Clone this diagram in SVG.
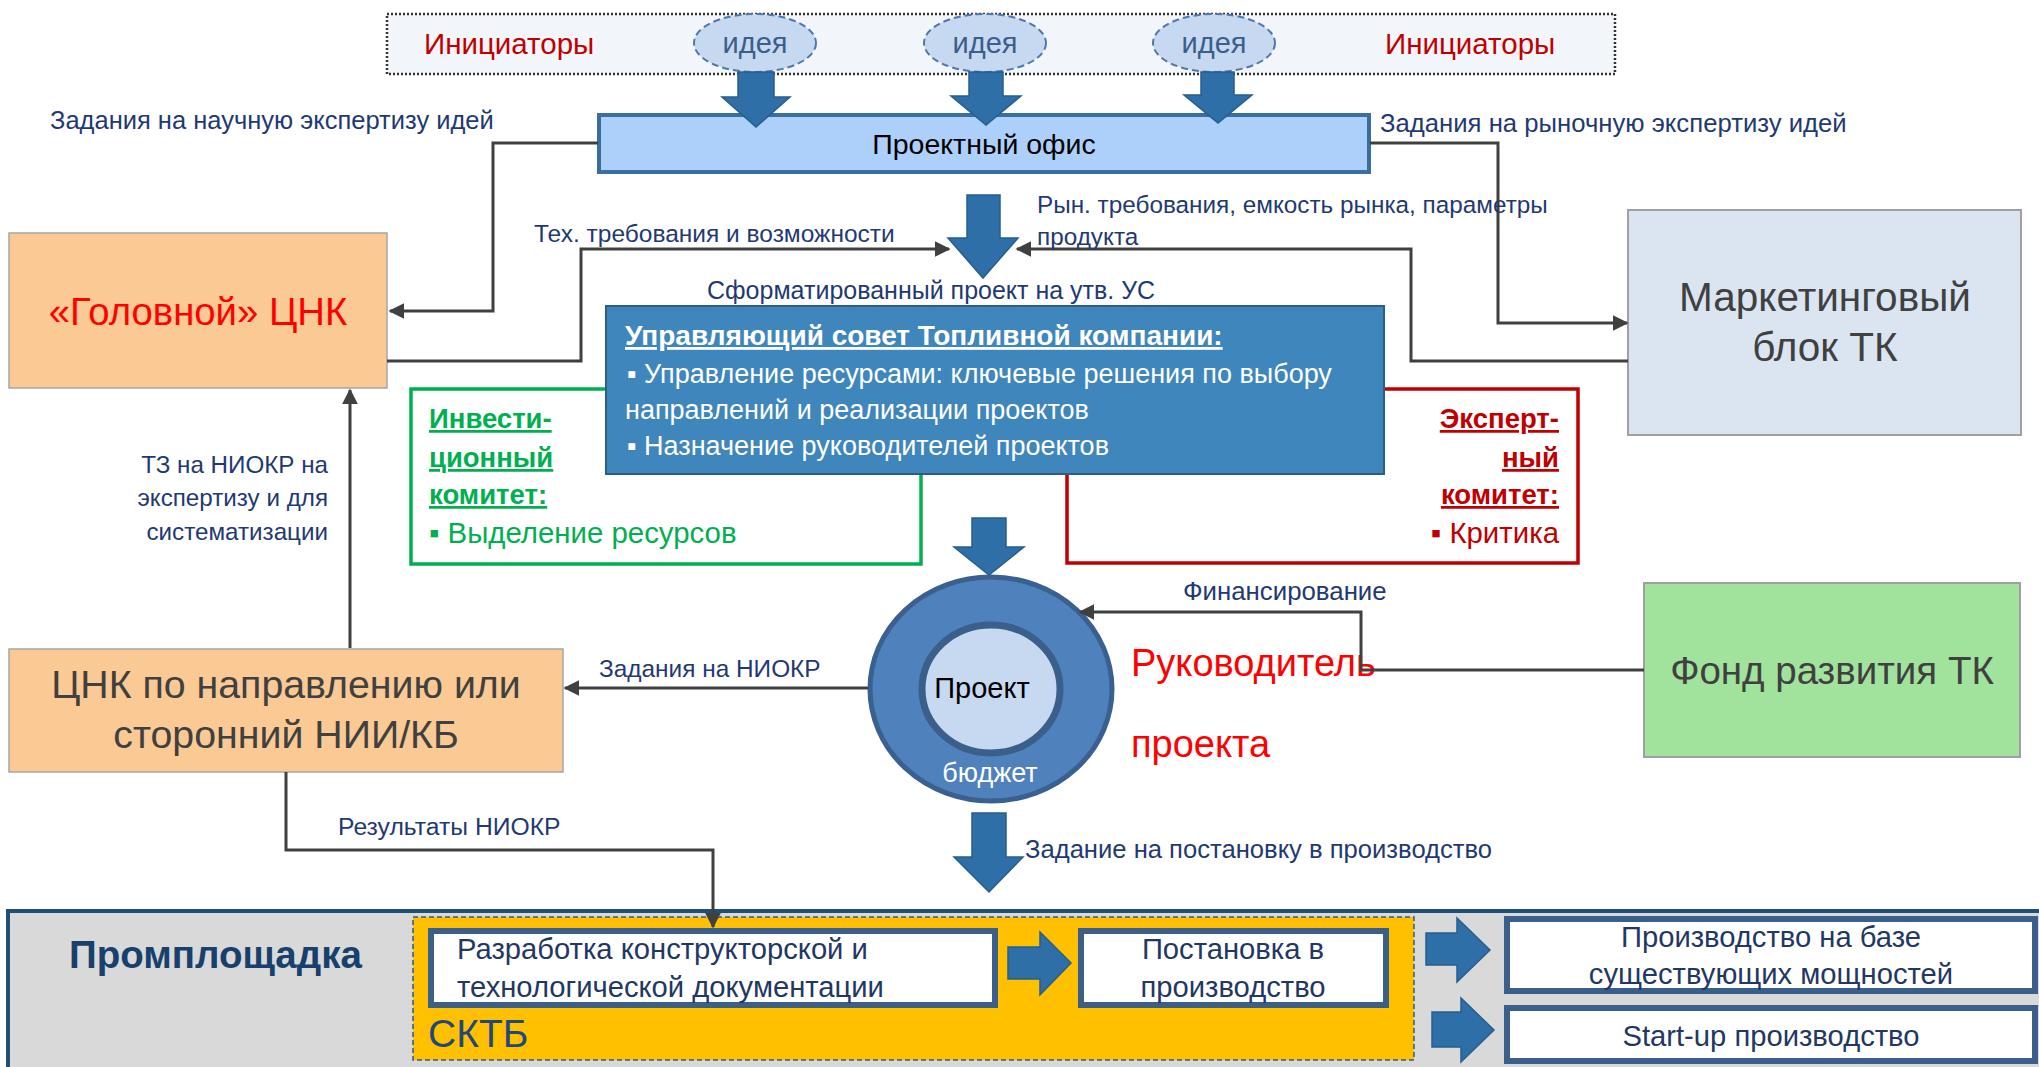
<svg xmlns="http://www.w3.org/2000/svg" width="2039" height="1067" viewBox="0 0 2039 1067">
<defs>
<style>
text{font-family:"Liberation Sans",Arial,sans-serif;}
.lbl{font-size:25px;fill:#1F3A73;}
.big{font-size:38.5px;fill:#404040;}
.box{font-size:29.2px;fill:#1F3864;}
.uc{font-size:27px;fill:#FFFFFF;}
.bar{fill:#2E6FA7;stroke:#275E8E;stroke-width:1.5;}
.con{fill:none;stroke:#404040;stroke-width:3;}
.idea{fill:#C6D9F1;stroke:#4F79AA;stroke-width:2;stroke-dasharray:7 4;}
.ideat{font-size:29px;fill:#3B5E8C;text-anchor:middle;}
.init{font-size:29.5px;fill:#C00000;}
.wb{fill:#FFFFFF;stroke:#3A5F8B;stroke-width:6;}
</style>
<marker id="ah" viewBox="0 0 10 10" refX="9" refY="5" markerWidth="16" markerHeight="16" markerUnits="userSpaceOnUse" orient="auto"><path d="M0,0 L10,5 L0,10 z" fill="#404040"/></marker>
</defs>
<rect width="2039" height="1067" fill="#FFFFFF"/>

<g id="initiators">
<rect x="387" y="14" width="1228" height="60" fill="#F2F6FB" stroke="#333333" stroke-width="2.5" stroke-dasharray="2 2"/>
<text class="init" x="424" y="54">Инициаторы</text>
<text class="init" x="1385" y="54">Инициаторы</text>
</g>
<g id="idea1"><ellipse class="idea" cx="755" cy="43" rx="61" ry="29"/><text class="ideat" x="755" y="53">идея</text></g>
<g id="idea2"><ellipse class="idea" cx="985" cy="43" rx="61" ry="29"/><text class="ideat" x="985" y="53">идея</text></g>
<g id="idea3"><ellipse class="idea" cx="1214" cy="43" rx="61" ry="29"/><text class="ideat" x="1214" y="53">идея</text></g>

<g id="project-office">
<rect x="599" y="115" width="770" height="57" fill="#ADD0FB" stroke="#3A6EA0" stroke-width="4"/>
<text x="984" y="154" font-size="28.5" fill="#000000" text-anchor="middle">Проектный офис</text>
</g>

<g id="golovnoy">
<rect x="9" y="233" width="378" height="155" fill="#FAC994" stroke="#A6A6A6" stroke-width="1.5"/>
<text x="198" y="325" font-size="38.3" fill="#FF0000" text-anchor="middle">«Головной» ЦНК</text>
</g>

<g id="marketing">
<rect x="1628" y="210" width="393" height="225" fill="#DBE5F1" stroke="#A0A0A0" stroke-width="2"/>
<text class="big" x="1825" y="311" text-anchor="middle" style="font-size:40.5px">Маркетинговый</text>
<text class="big" x="1825" y="361" text-anchor="middle" style="font-size:40.5px">блок ТК</text>
</g>

<g id="invest">
<rect x="411" y="389" width="510" height="175" fill="#FFFFFF" stroke="#00B050" stroke-width="3.5"/>
<text x="429" y="428" font-size="27.5" font-weight="bold" fill="#00B050" text-decoration="underline">Инвести-</text>
<text x="429" y="467" font-size="27.5" font-weight="bold" fill="#00B050" text-decoration="underline">ционный</text>
<text x="429" y="504" font-size="27.5" font-weight="bold" fill="#00B050" text-decoration="underline">комитет:</text>
<text x="429" y="543" font-size="29.4" fill="#00B050">▪ Выделение ресурсов</text>
</g>

<g id="expert">
<rect x="1067" y="389" width="511" height="174" fill="#FFFFFF" stroke="#C00000" stroke-width="3.5"/>
<text x="1559" y="428" font-size="27.5" font-weight="bold" fill="#C00000" text-anchor="end" text-decoration="underline">Эксперт-</text>
<text x="1559" y="467" font-size="27.5" font-weight="bold" fill="#C00000" text-anchor="end" text-decoration="underline">ный</text>
<text x="1559" y="504" font-size="27.5" font-weight="bold" fill="#C00000" text-anchor="end" text-decoration="underline">комитет:</text>
<text x="1559" y="543" font-size="29.4" fill="#C00000" text-anchor="end">▪ Критика</text>
</g>

<g id="council">
<rect x="606" y="306" width="778" height="168" fill="#3F86BD" stroke="#2B5C8A" stroke-width="2"/>
<text x="625" y="345" font-size="28" font-weight="bold" fill="#FFFFFF" text-decoration="underline">Управляющий совет Топливной компании:</text>
<text class="uc" x="627" y="383">▪ Управление ресурсами: ключевые решения по выбору</text>
<text class="uc" x="625" y="419">направлений и реализации проектов</text>
<text class="uc" x="627" y="455">▪ Назначение руководителей проектов</text>
</g>

<g id="cnk-dir">
<rect x="9" y="649" width="554" height="123" fill="#FAC994" stroke="#A6A6A6" stroke-width="1.5"/>
<text class="big" x="286" y="698" text-anchor="middle" style="font-size:39.3px">ЦНК по направлению или</text>
<text class="big" x="286" y="748" text-anchor="middle" style="font-size:39.3px">сторонний НИИ/КБ</text>
</g>

<g id="fund">
<rect x="1644" y="583" width="376" height="174" fill="#A1E39D" stroke="#A0A0A0" stroke-width="2"/>
<text class="big" x="1832" y="684" text-anchor="middle">Фонд развития ТК</text>
</g>

<g id="project">
<ellipse cx="991" cy="689" rx="121" ry="112" fill="#4F81BD" stroke="#3A6090" stroke-width="5"/>
<ellipse cx="991" cy="689" rx="69" ry="64" fill="#C6D9F1" stroke="#3A5F8B" stroke-width="7"/>
<text x="982" y="698" font-size="29" fill="#000000" text-anchor="middle">Проект</text>
<text x="990" y="782" font-size="27" fill="#FFFFFF" text-anchor="middle">бюджет</text>
</g>

<g id="manager">
<text x="1131" y="676" font-size="38" fill="#FF0000">Руководитель</text>
<text x="1131" y="757" font-size="38" fill="#FF0000">проекта</text>
</g>

<g id="promplosh">
<rect x="8" y="911" width="2040" height="170" fill="#D9D9D9" stroke="#1F4E79" stroke-width="4"/>
<text x="69" y="968" font-size="38.5" font-weight="bold" fill="#17406D">Промплощадка</text>
</g>

<g id="sktb">
<rect x="413" y="917" width="1001" height="143" fill="#FFC000" stroke="#2F5A8A" stroke-width="1.5" stroke-dasharray="5 3"/>
<text x="428" y="1047" font-size="39" fill="#1F497D">СКТБ</text>
</g>

<g id="razrabotka">
<rect class="wb" x="431" y="931" width="564" height="74"/>
<text class="box" x="457" y="959">Разработка конструкторской и</text>
<text class="box" x="457" y="997">технологической документации</text>
</g>

<g id="postanovka">
<rect class="wb" x="1081" y="931" width="305" height="74"/>
<text class="box" x="1233" y="959" text-anchor="middle">Постановка в</text>
<text class="box" x="1233" y="997" text-anchor="middle">производство</text>
</g>

<g id="prod-existing">
<rect class="wb" x="1507" y="919" width="528" height="72"/>
<text class="box" x="1771" y="947" text-anchor="middle">Производство на базе</text>
<text class="box" x="1771" y="984" text-anchor="middle">существующих мощностей</text>
</g>

<g id="startup">
<rect class="wb" x="1507" y="1008" width="528" height="53"/>
<text class="box" x="1771" y="1046" text-anchor="middle">Start-up производство</text>
</g>

<g id="connectors">
<polygon class="bar" points="738,72 774,72 774,97 790,97 756,127 722,97 738,97"/>
<polygon class="bar" points="969,72 1003,72 1003,96 1021,96 986,125 951,96 969,96"/>
<polygon class="bar" points="1201,72 1234,72 1234,95 1252,95 1218,123 1184,95 1201,95"/>
<polygon class="bar" points="967,195 1000,195 1000,238 1018,238 983,278 948,238 967,238"/>
<polygon class="bar" points="972,518 1006,518 1006,547 1024,547 989,575 954,547 972,547"/>
<polygon class="bar" points="972,813 1006,813 1006,857 1023,857 989,892 954,857 972,857"/>
<polygon class="bar" points="1008,947 1040,947 1040,932 1071,963 1040,995 1040,979 1008,979"/>
<polygon class="bar" points="1426,933 1457,933 1457,918 1490,950 1457,982 1457,965 1426,965"/>
<polygon class="bar" points="1432,1012 1461,1012 1461,998 1494,1030 1461,1062 1461,1047 1432,1047"/>

<path class="con" d="M598,143 H493 V311 H390" marker-end="url(#ah)"/>
<path class="con" d="M387,361 H581 V249 H949" marker-end="url(#ah)"/>
<path class="con" d="M1628,361 H1411 V249 H1017" marker-end="url(#ah)"/>
<path class="con" d="M1370,143 H1498 V323 H1627" marker-end="url(#ah)"/>
<path class="con" d="M350,648 V390" marker-end="url(#ah)"/>
<path class="con" d="M868,688 H565" marker-end="url(#ah)"/>
<path class="con" d="M1644,670 H1361 V612 H1080" marker-end="url(#ah)"/>
<path class="con" d="M286,772 V850 H713 V927" marker-end="url(#ah)"/>

<text class="lbl" x="50" y="129" style="font-size:25.5px">Задания на научную экспертизу идей</text>
<text class="lbl" x="1380" y="132" style="font-size:25.7px">Задания на рыночную экспертизу идей</text>
<text class="lbl" x="534" y="242" style="font-size:24.5px">Тех. требования и возможности</text>
<text class="lbl" x="1037" y="213" style="font-size:24.3px">Рын. требования, емкость рынка, параметры</text>
<text class="lbl" x="1037" y="245" style="font-size:24.3px">продукта</text>
<text class="lbl" x="707" y="299">Сформатированный проект на утв. УС</text>
<text class="lbl" x="328" y="473" text-anchor="end" style="font-size:24.2px">ТЗ на НИОКР на</text>
<text class="lbl" x="328" y="506" text-anchor="end" style="font-size:24.2px">экспертизу и для</text>
<text class="lbl" x="328" y="540" text-anchor="end" style="font-size:24.2px">систематизации</text>
<text class="lbl" x="599" y="677" style="font-size:24.4px">Задания на НИОКР</text>
<text class="lbl" x="1183" y="600" style="font-size:25.8px">Финансирование</text>
<text class="lbl" x="338" y="835" style="font-size:24.7px">Результаты НИОКР</text>
<text class="lbl" x="1025" y="858" style="font-size:25.6px">Задание на постановку в производство</text>
</g>
</svg>
